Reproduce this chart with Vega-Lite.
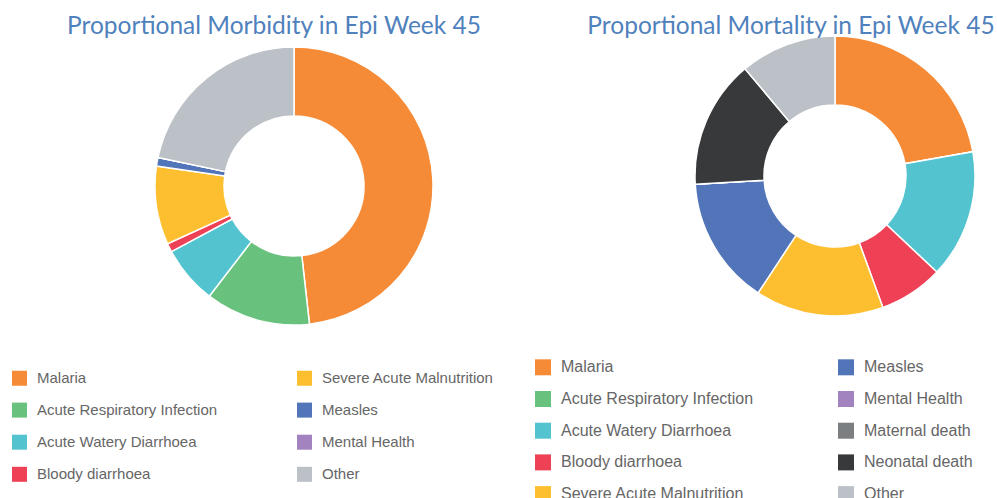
{
  "$schema": "https://vega.github.io/schema/vega-lite/v6.json",
  "padding": 0,
  "autosize": {"type": "pad"},
  "background": "white",
  "spacing": 100,
  "bounds": "flush",
  "datasets": {
    "morbidity": [
      {"cause": "Malaria", "value": 48.2, "rank": 1},
      {"cause": "Acute Respiratory Infection", "value": 12.2, "rank": 2},
      {"cause": "Acute Watery Diarrhoea", "value": 6.75, "rank": 3},
      {"cause": "Bloody diarrhoea", "value": 1.0, "rank": 4},
      {"cause": "Severe Acute Malnutrition", "value": 9.1, "rank": 5},
      {"cause": "Measles", "value": 1.0, "rank": 6},
      {"cause": "Mental Health", "value": 0, "rank": 7},
      {"cause": "Other", "value": 21.7, "rank": 8}
    ],
    "mortality": [
      {"cause": "Malaria", "value": 6, "rank": 1},
      {"cause": "Acute Respiratory Infection", "value": 0, "rank": 2},
      {"cause": "Acute Watery Diarrhoea", "value": 4, "rank": 3},
      {"cause": "Bloody diarrhoea", "value": 2, "rank": 4},
      {"cause": "Severe Acute Malnutrition", "value": 4, "rank": 5},
      {"cause": "Measles", "value": 4, "rank": 6},
      {"cause": "Mental Health", "value": 0, "rank": 7},
      {"cause": "Maternal death", "value": 0, "rank": 8},
      {"cause": "Neonatal death", "value": 4, "rank": 9},
      {"cause": "Other", "value": 3, "rank": 10}
    ]
  },
  "hconcat": [
    {
      "width": 588,
      "height": 372,
      "title": {"text": "Proportional Morbidity in Epi Week 45", "anchor": "middle", "frame": "group", "dx": -20, "offset": -58.5, "baseline": "alphabetic", "font": "Lato", "fontSize": 24.5, "fontWeight": "normal", "color": "#4F81BD"},
      "data": {"name": "morbidity"},
      "mark": {"type": "arc", "radius": 139, "radius2": 70, "stroke": "white", "strokeWidth": 1.5},
      "encoding": {
        "theta": {"field": "value", "type": "quantitative", "stack": true},
        "order": {"field": "rank", "type": "quantitative"},
        "color": {
          "field": "cause", "type": "nominal",
          "scale": {
            "domain": ["Malaria", "Acute Respiratory Infection", "Acute Watery Diarrhoea", "Bloody diarrhoea", "Severe Acute Malnutrition", "Measles", "Mental Health", "Other"],
            "range": ["#F68B37", "#68C17C", "#53C4CF", "#EF4155", "#FDBF2F", "#5274B8", "#A383BF", "#BBC1C6"]
          },
          "legend": {"title": null, "orient": "none", "legendX": 12, "legendY": 370.5, "columns": 2, "columnPadding": 79, "rowPadding": 16.1, "symbolSize": 225, "labelFontSize": 15, "labelOffset": 10}
        }
      }
    },
    {
      "width": 294,
      "height": 352,
      "title": {"text": "Proportional Mortality in Epi Week 45", "anchor": "middle", "frame": "group", "dx": -44, "offset": -58.5, "baseline": "alphabetic", "font": "Lato", "fontSize": 24.5, "fontWeight": "normal", "color": "#4F81BD"},
      "data": {"name": "mortality"},
      "mark": {"type": "arc", "radius": 140, "radius2": 71, "stroke": "white", "strokeWidth": 1.5},
      "encoding": {
        "theta": {"field": "value", "type": "quantitative", "stack": true},
        "order": {"field": "rank", "type": "quantitative"},
        "color": {
          "field": "cause", "type": "nominal",
          "scale": {
            "domain": ["Malaria", "Acute Respiratory Infection", "Acute Watery Diarrhoea", "Bloody diarrhoea", "Severe Acute Malnutrition", "Measles", "Mental Health", "Maternal death", "Neonatal death", "Other"],
            "range": ["#F68B37", "#68C17C", "#53C4CF", "#EF4155", "#FDBF2F", "#5274B8", "#A383BF", "#7B7F82", "#38393B", "#BBC1C6"]
          },
          "legend": {"title": null, "orient": "none", "legendX": -153, "legendY": 359.3, "columns": 2, "columnPadding": 84, "rowPadding": 15.7, "symbolSize": 256, "labelFontSize": 16, "labelOffset": 10}
        }
      }
    }
  ],
  "resolve": {"scale": {"color": "independent"}, "legend": {"color": "independent"}},
  "config": {
    "view": {"stroke": null},
    "legend": {"symbolType": "square", "symbolStrokeWidth": 0, "symbolOpacity": 1, "labelFont": "Liberation Sans", "labelColor": "#666666", "labelLimit": 0, "padding": 0}
  }
}
